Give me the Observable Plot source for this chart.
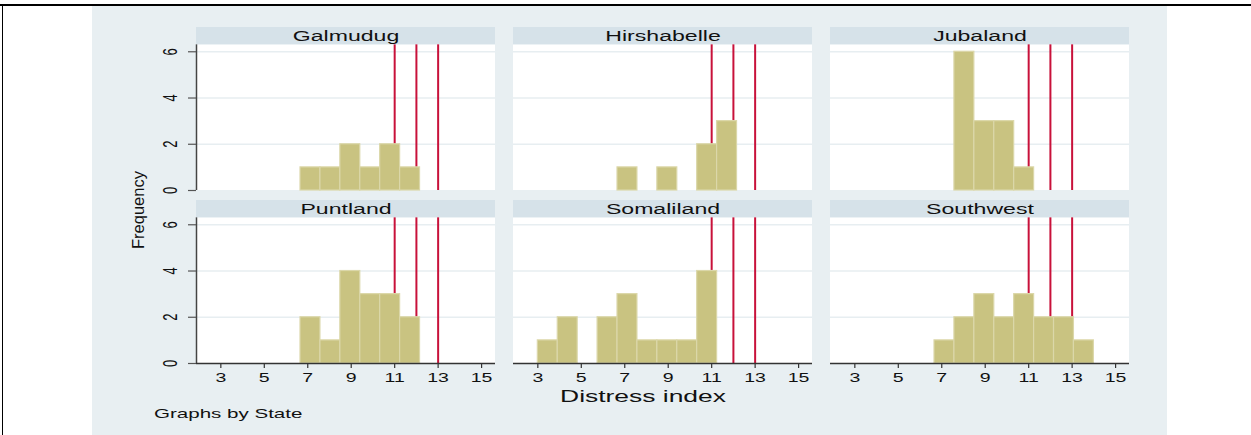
<!DOCTYPE html>
<html>
<head>
<meta charset="utf-8">
<script src="https://cdn.jsdelivr.net/npm/d3@7"></script>
<script src="https://cdn.jsdelivr.net/npm/@observablehq/plot@0.6"></script>
<style>
  html, body { margin: 0; padding: 0; background: #ffffff; }
  #wrap { position: relative; width: 1251px; height: 435px; overflow: hidden; font-family: "Liberation Sans", Arial, sans-serif; }
  #bg { position: absolute; left: 92px; top: 5px; width: 1075px; height: 430px; background: #e8eff2; }
  #topline1 { position: absolute; left: 0; top: 4px; width: 1251px; height: 1.5px; background: #000; }
  #topline2 { position: absolute; left: 1167px; top: 3.5px; width: 84px; height: 2.5px; background: #000; }
  #leftline { position: absolute; left: 2px; top: 4px; width: 1px; height: 431px; background: #000; }
  #chart { position: absolute; left: 0; top: 0; }
  .lbl { position: absolute; white-space: nowrap; line-height: 1; color: #111; }
</style>
</head>
<body>
<div id="wrap">
  <div id="bg"></div>
  <div id="topline1"></div>
  <div id="topline2"></div>
  <div id="leftline"></div>
  <div id="chart"></div>
  <div class="lbl" id="ylab" style="left:137.5px; top:210px; font-size:16.5px; transform: translate(-50%,-50%) rotate(-90deg);">Frequency</div>
  <div class="lbl" id="xlab" style="left:643px; top:397.2px; font-size:16px; transform: translate(-50%,-50%) scaleX(1.65);">Distress index</div>
  <div class="lbl" id="note" style="left:154px; top:406.8px; font-size:13px; transform-origin: 0 50%; transform: scaleX(1.58);">Graphs by State</div>
</div>
<script>
// ---- data ----
const states = ["Galmudug", "Hirshabelle", "Jubaland", "Puntland", "Somaliland", "Southwest"];
const binEdges = [3, 3.917, 4.833, 5.75, 6.667, 7.583, 8.5, 9.417, 10.333, 11.25, 12.167, 13.083, 14];
const galmudug    = [0, 0, 0, 0, 1, 1, 2, 1, 2, 1, 0, 0];
const hirshabelle = [0, 0, 0, 0, 1, 0, 1, 0, 2, 3, 0, 0];
const jubaland    = [0, 0, 0, 0, 0, 6, 3, 3, 1, 0, 0, 0];
const puntland    = [0, 0, 0, 0, 2, 1, 4, 3, 3, 2, 0, 0];
const somaliland  = [1, 2, 0, 2, 3, 1, 1, 1, 4, 0, 0, 0];
const southwest   = [0, 0, 0, 0, 1, 2, 3, 2, 3, 2, 2, 1];
const cutoffs = [11, 12, 13];
const xTicks = [3, 5, 7, 9, 11, 13, 15];
const yTicks = [0, 2, 4, 6];
const gridTicks = [2, 4, 6];

// ---- derived tables ----
const countsByState = [galmudug, hirshabelle, jubaland, puntland, somaliland, southwest];
const X0 = 1.88, X1 = 15.64, XMID = (X0 + X1) / 2;
const YTOP = 6.3, YMAX = 7.05, YSTRIP = (YTOP + YMAX) / 2;

const panels = states.map((s, i) => ({state: s, col: i % 3, row: Math.floor(i / 3)}));
const leftPanels = panels.filter(p => p.col === 0);
const bottomPanels = panels.filter(p => p.row === 1);
const cross = (ps, vals) => ps.flatMap(p => vals.map(v => ({...p, v})));

const bars = panels.flatMap((p, i) => countsByState[i].map((n, j) => ({
  ...p, x1: binEdges[j], x2: binEdges[j + 1], n
})).filter(d => d.n > 0));

const chart = Plot.plot({
  width: 1251,
  height: 435,
  marginLeft: 195,
  marginRight: 122,
  marginTop: 26,
  marginBottom: 72,
  style: {background: "transparent", fontFamily: "Liberation Sans, Arial, sans-serif"},
  fx: {domain: [0, 1, 2], axis: null, paddingInner: 0.058, paddingOuter: 0},
  fy: {domain: [0, 1], axis: null, paddingInner: 0.06, paddingOuter: 0},
  x: {domain: [X0, X1], axis: null},
  y: {domain: [0, YMAX], axis: null},
  marks: [
    // plot area and strip
    Plot.rect(panels, {fx: "col", fy: "row", x1: X0, x2: X1, y1: 0, y2: YTOP, fill: "#ffffff"}),
    Plot.rect(panels, {fx: "col", fy: "row", x1: X0, x2: X1, y1: YTOP, y2: YMAX, fill: "#d6e2e9"}),
    // grid
    Plot.ruleY(cross(panels, gridTicks), {fx: "col", fy: "row", y: "v", x1: X0, x2: X1, stroke: "#e7eef1", strokeWidth: 1.5}),
    // cutoff lines
    Plot.ruleX(cross(panels, cutoffs), {fx: "col", fy: "row", x: "v", y1: 0, y2: YTOP, stroke: "#c8113a", strokeWidth: 2}),
    // histogram bars
    Plot.rectY(bars, {fx: "col", fy: "row", x1: "x1", x2: "x2", y1: 0, y2: "n", fill: "#c9c381", stroke: "#dbd7a9", strokeWidth: 1.2}),
    // y axis
    Plot.ruleX(leftPanels, {fx: "col", fy: "row", x: X0, y1: 0, y2: YTOP, stroke: "#444444", strokeWidth: 1.5}),
    Plot.ruleY(cross(leftPanels, yTicks), {fx: "col", fy: "row", y: "v", x1: X0, x2: X0, insetLeft: -8, stroke: "#555555", strokeWidth: 1.2}),
    Plot.text(cross(leftPanels, yTicks), {fx: "col", fy: "row", x: X0, y: "v", text: d => String(d.v), rotate: -90, dx: -26, fontSize: 13, fill: "#111111"}),
    // x axis
    Plot.ruleY(bottomPanels, {fx: "col", fy: "row", y: 0, x1: X0, x2: X1, stroke: "#333333", strokeWidth: 1.5}),
    Plot.ruleX(cross(bottomPanels, xTicks), {fx: "col", fy: "row", x: "v", y1: 0, y2: 0, insetBottom: -5, stroke: "#333333", strokeWidth: 1.2}),
    Plot.text(cross(bottomPanels, xTicks), {fx: "col", fy: "row", x: "v", y: 0, text: d => String(d.v), lineAnchor: "top", dy: 9.5, fontSize: 13, fill: "#111111"}),
    // strip titles
    Plot.text(panels, {fx: "col", fy: "row", x: XMID, y: YSTRIP, text: "state", fontSize: 14, fill: "#111111"})
  ]
});

// horizontal stretch of text to mimic the reference's aspect
chart.querySelectorAll("text").forEach(t => {
  const tr = t.getAttribute("transform") || "";
  const content = t.textContent;
  let s;
  if (tr.includes("rotate")) s = "scale(1,1.6)";
  else if (states.includes(content)) s = "scale(1.65,1)";
  else s = "scale(1.5,1)";
  t.setAttribute("transform", (tr + " " + s).trim());
});

document.getElementById("chart").appendChild(chart);
</script>
</body>
</html>
